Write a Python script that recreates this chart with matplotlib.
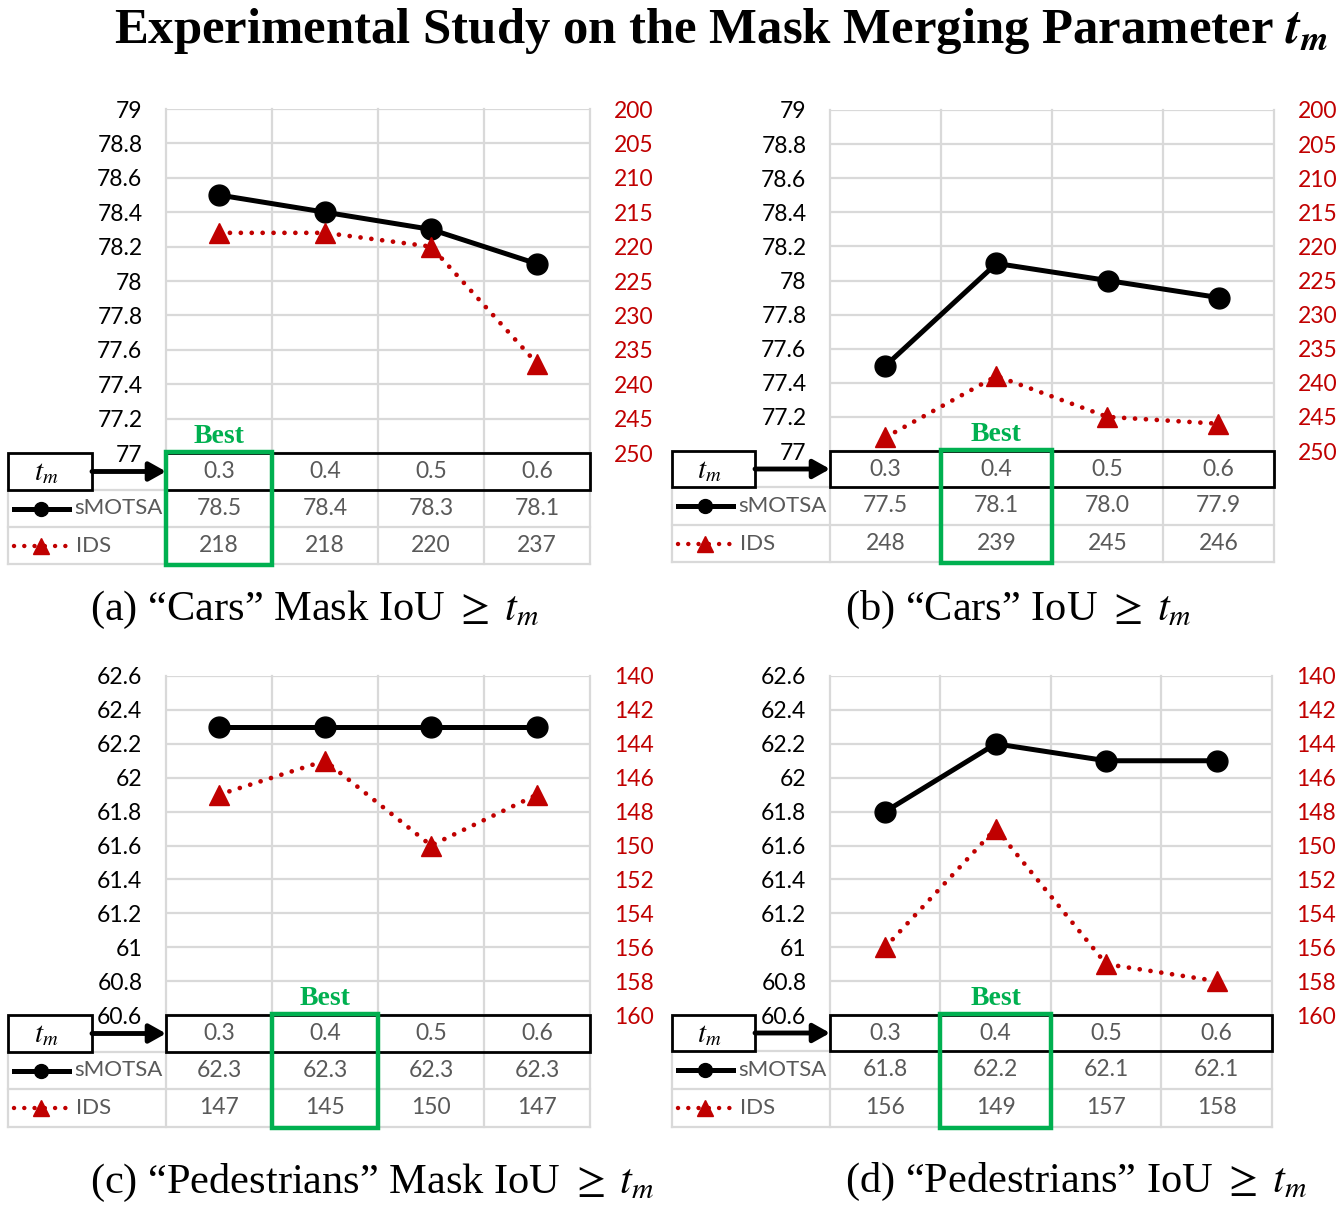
import matplotlib
matplotlib.use('Agg')
import matplotlib.pyplot as plt
from matplotlib import transforms
from matplotlib.patches import Rectangle

# ---------------- data ----------------
tm_values = ['0.3', '0.4', '0.5', '0.6']

cars_mask_smotsa = [78.5, 78.4, 78.3, 78.1]
cars_mask_ids = [218, 218, 220, 237]
cars_iou_smotsa = [77.5, 78.1, 78.0, 77.9]
cars_iou_ids = [248, 239, 245, 246]
ped_mask_smotsa = [62.3, 62.3, 62.3, 62.3]
ped_mask_ids = [147, 145, 150, 147]
ped_iou_smotsa = [61.8, 62.2, 62.1, 62.1]
ped_iou_ids = [156, 149, 157, 158]

cars_left_ticks = [77, 77.2, 77.4, 77.6, 77.8, 78, 78.2, 78.4, 78.6, 78.8, 79]
cars_right_ticks = [200, 205, 210, 215, 220, 225, 230, 235, 240, 245, 250]
ped_left_ticks = [60.6, 60.8, 61, 61.2, 61.4, 61.6, 61.8, 62, 62.2, 62.4, 62.6]
ped_right_ticks = [140, 142, 144, 146, 148, 150, 152, 154, 156, 158, 160]

best_index = [0, 1, 1, 1]
captions = ['(a) \u201cCars\u201d Mask IoU $\\geq\\;t_m$',
            '(b) \u201cCars\u201d IoU $\\geq\\;t_m$',
            '(c) \u201cPedestrians\u201d Mask IoU $\\geq\\;t_m$',
            '(d) \u201cPedestrians\u201d IoU $\\geq\\;t_m$']
title = 'Experimental Study on the Mask Merging Parameter $\\mathbfit{t_m}$'
row_names = ['sMOTSA', 'IDS']

# ---------------- style ----------------
W, H, DPI = 1341, 1211, 100
GRID = '#D9D9D9'
RED = '#C00000'
GREEN = '#00B050'
GRAYTXT = '#595959'
SANS = ['Lato', 'DejaVu Sans']
SERIF = ['Liberation Serif', 'DejaVu Serif']
plt.rcParams['mathtext.fontset'] = 'stix'
FS = 16.5
FS_TAB = 16

fig = plt.figure(figsize=(W / DPI, H / DPI), dpi=DPI)
fig.patch.set_facecolor('white')

ov = fig.add_axes([0, 0, 1, 1], zorder=10)
ov.set_xlim(0, W)
ov.set_ylim(H, 0)
ov.axis('off')
ov.patch.set_visible(False)


def px_rect(x0, y0, x1, y1):
    return [x0 / W, 1 - y1 / H, (x1 - x0) / W, (y1 - y0) / H]


layouts = [
    dict(px=(166, 590), py=(109, 453), rows=(453, 490, 527, 564), lab=(8, 92), cap=(90, 620)),
    dict(px=(830, 1274), py=(110, 451), rows=(451, 487, 525, 562), lab=(672, 755), cap=(845, 620)),
    dict(px=(166, 590), py=(676, 1015), rows=(1015, 1052, 1089, 1127), lab=(8, 92), cap=(90, 1193)),
    dict(px=(830, 1272), py=(676, 1015), rows=(1015, 1051, 1089, 1127), lab=(672, 755), cap=(845, 1192)),
]
smotsa_sets = [cars_mask_smotsa, cars_iou_smotsa, ped_mask_smotsa, ped_iou_smotsa]
ids_sets = [cars_mask_ids, cars_iou_ids, ped_mask_ids, ped_iou_ids]
left_ticks = [cars_left_ticks, cars_left_ticks, ped_left_ticks, ped_left_ticks]
right_ticks = [cars_right_ticks, cars_right_ticks, ped_right_ticks, ped_right_ticks]

for k in range(4):
    L = layouts[k]
    px0, px1 = L['px']
    py0, py1 = L['py']
    r0, r1, r2, r3 = L['rows']
    lab0, lab1 = L['lab']
    xs = list(range(len(tm_values)))
    lt, rt = left_ticks[k], right_ticks[k]

    ax = fig.add_axes(px_rect(px0, py0, px1, py1))
    ax.patch.set_visible(False)
    for s in ax.spines.values():
        s.set_visible(False)
    bt = transforms.blended_transform_factory(ax.transData, ov.transData)

    # gridlines
    for v in lt:
        ax.axhline(v, color=GRID, lw=1.6, zorder=0)
    for b in [-0.5, 0.5, 1.5, 2.5, 3.5]:
        ax.plot([b, b], [py0, r3], transform=bt, color=GRID, lw=1.6, zorder=0, clip_on=False)

    ax.plot(xs, smotsa_sets[k], color='black', lw=3.6, marker='o', ms=15, zorder=4)
    ax.set_xlim(-0.5, 3.5)
    ax.set_ylim(lt[0], lt[-1])
    ax.set_xticks([])
    ax.set_yticks(lt)
    ax.set_yticklabels([f'{v:g}' for v in lt], family=SANS, fontsize=FS)
    ax.tick_params(axis='y', length=0, pad=17, labelcolor='black')

    ax2 = ax.twinx()
    for s in ax2.spines.values():
        s.set_visible(False)
    ax2.plot(xs, ids_sets[k], color=RED, lw=3.4, ls=(0, (0.01, 2.3)),
             dash_capstyle='round', marker='^', ms=15, zorder=3)
    ax2.set_ylim(rt[-1], rt[0])
    ax2.set_yticks(rt)
    ax2.set_yticklabels([f'{v:g}' for v in rt], family=SANS, fontsize=FS)
    ax2.tick_params(axis='y', length=0, pad=17, labelcolor=RED)
    ax2.set_xlim(-0.5, 3.5)

    # ---------------- table ----------------
    for y in (r2, r3):
        ov.plot([lab0, px1], [y, y], color=GRID, lw=1.6, zorder=1)
    ov.plot([lab0, px0], [r1, r1], color=GRID, lw=1.6, zorder=1)
    ov.plot([lab0, lab0], [r1, r3], color=GRID, lw=1.6, zorder=1)
    ov.add_patch(Rectangle((px0, r0), px1 - px0, r1 - r0, fill=False, ec='black', lw=2, zorder=3))
    ov.add_patch(Rectangle((lab0, r0), lab1 - lab0, r1 - r0, fc='white', ec='black', lw=2, zorder=3))
    c0, c1, c2 = (r0 + r1) / 2, (r1 + r2) / 2, (r2 + r3) / 2
    ov.text((lab0 + lab1) / 2 - 4, c0 + 1, '$t_m$', ha='center', va='center', fontsize=21, color='black')
    ov.annotate('', xy=(px0, c0), xytext=(lab1, c0),
                arrowprops=dict(arrowstyle='-|>,head_length=0.5,head_width=0.28', lw=3.5,
                                color='black', shrinkA=0, shrinkB=0, mutation_scale=20), zorder=4)
    # legend glyphs
    ov.plot([lab0 + 6, lab0 + 61], [c1, c1], color='black', lw=3.6, zorder=4)
    ov.plot([lab0 + 33], [c1], marker='o', color='black', ms=10, zorder=4)
    ov.text(lab0 + 66, c1, row_names[0], ha='left', va='center', family=SANS, fontsize=FS_TAB, color=GRAYTXT)
    ov.plot([lab0 + 6, lab0 + 61], [c2, c2], color=RED, lw=3.2, ls=(0, (0.01, 2.3)),
            dash_capstyle='round', zorder=4)
    ov.plot([lab0 + 33], [c2], marker='^', color=RED, ms=11, zorder=4)
    ov.text(lab0 + 68, c2, row_names[1], ha='left', va='center', family=SANS, fontsize=FS_TAB, color=GRAYTXT)

    for i in xs:
        ov.text(i, c0, tm_values[i], transform=bt, ha='center', va='center', family=SANS,
                fontsize=FS, color=GRAYTXT, zorder=5)
        ov.text(i, c1, f'{smotsa_sets[k][i]:.1f}', transform=bt, ha='center', va='center',
                family=SANS, fontsize=FS, color=GRAYTXT, zorder=5)
        ov.text(i, c2, f'{ids_sets[k][i]:d}', transform=bt, ha='center', va='center',
                family=SANS, fontsize=FS, color=GRAYTXT, zorder=5)

    bi = best_index[k]
    ov.add_patch(Rectangle((bi - 0.5, r0 - 1), 1, r3 - r0 + 2, transform=bt, fill=False,
                           ec=GREEN, lw=3.2, zorder=6))
    ov.text(bi, r0 - 10, 'Best', transform=bt, ha='center', va='baseline', family=SERIF,
            fontweight='bold', fontsize=20, color=GREEN, zorder=6)

    cx, cy = L['cap']
    ov.text(cx, cy, captions[k], ha='left', va='baseline', family=SERIF, fontsize=30.5, color='black')

ov.text(721, 43, title, ha='center', va='baseline', family=SERIF, fontweight='bold',
        fontsize=36.5, color='black')

fig.savefig('out.png', dpi=DPI, facecolor='white')
